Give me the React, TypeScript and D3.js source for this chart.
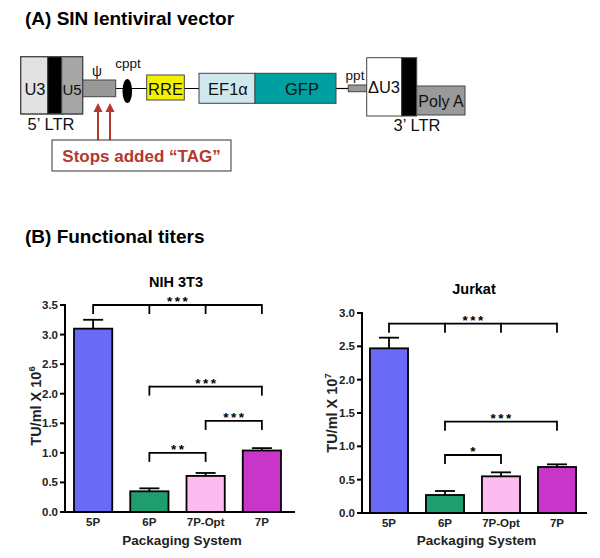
import * as d3 from "d3";
import { useEffect, useRef } from "react";

// ---- data ----
const categories = ["5P", "6P", "7P-Opt", "7P"];
const nihMeans = [3.1, 0.35, 0.61, 1.04];
const nihErrors = [0.15, 0.05, 0.05, 0.04];
const jurkatMeans = [2.47, 0.27, 0.55, 0.69];
const jurkatErrors = [0.16, 0.06, 0.06, 0.04];
const nihTicks = [0, 0.5, 1, 1.5, 2, 2.5, 3, 3.5];
const jurkatTicks = [0, 0.5, 1, 1.5, 2, 2.5, 3];

const nihBrackets = [
  { drops: ["5P", "6P", "7P-Opt", "7P"], level: 3.5, stars: "***" },
  { drops: ["6P", "7P"], level: 2.12, stars: "***" },
  { drops: ["7P-Opt", "7P"], level: 1.54, stars: "***" },
  { drops: ["6P", "7P-Opt"], level: 1.0, stars: "**" },
];
const jurkatBrackets = [
  { drops: ["5P", "6P", "7P-Opt", "7P"], level: 2.84, stars: "***" },
  { drops: ["6P", "7P"], level: 1.37, stars: "***" },
  { drops: ["6P", "7P-Opt"], level: 0.87, stars: "*" },
];

const barColors = ["#6a6af6", "#1f9d6e", "#fcbcef", "#c934c9"];

// schematic of the vector, in schematic units
const vectorParts = [
  { start: 20.7, end: 47.7, top: 56.7, bottom: 114, fill: "#e2e2e2" },
  { start: 47.7, end: 61.7, top: 56.7, bottom: 114, fill: "#000" },
  { start: 61.7, end: 82.7, top: 56.7, bottom: 114, fill: "#a6a6a6" },
  { start: 82.7, end: 115.7, top: 80, bottom: 96.7, fill: "#999" },
  { start: 146.7, end: 184.3, top: 75, bottom: 100, fill: "#f2f200" },
  { start: 199, end: 255, top: 73.3, bottom: 103.3, fill: "#cfe8ee" },
  { start: 255, end: 336, top: 73.3, bottom: 103.3, fill: "#00a0a0" },
  { start: 348.3, end: 366.7, top: 85, bottom: 91.7, fill: "#999" },
  { start: 366.7, end: 401.7, top: 57.7, bottom: 116, fill: "#fff" },
  { start: 401.7, end: 416.7, top: 57.7, bottom: 116, fill: "#000" },
  { start: 416.7, end: 465, top: 86, bottom: 115, fill: "#9a9a9a" },
];
const vectorLabels = [
  { text: "U3", x: 35, y: 95, size: 16.5 },
  { text: "U5", x: 72, y: 95, size: 15 },
  { text: "ψ", x: 97, y: 76, size: 14 },
  { text: "cppt", x: 128, y: 68, size: 13.5 },
  { text: "RRE", x: 165.5, y: 95, size: 16.5 },
  { text: "EF1α", x: 228, y: 95, size: 16.5 },
  { text: "GFP", x: 302, y: 95, size: 16.5 },
  { text: "ppt", x: 355, y: 80, size: 13.5 },
  { text: "ΔU3", x: 384, y: 93, size: 16.5 },
  { text: "Poly A", x: 441, y: 106.5, size: 16 },
  { text: "5’ LTR", x: 51, y: 130, size: 16.5 },
  { text: "3’ LTR", x: 417, y: 130.5, size: 16.5 },
];
const stopArrows = [98, 110];

const FONT = "Liberation Sans, Arial, Helvetica, sans-serif";

interface ChartCfg {
  title: string;
  exp: string;
  means: number[];
  errors: number[];
  ticks: number[];
  max: number;
  axisLeft: number;
  axisRight: number;
  yTop: number;
  yBottom: number;
  band: [number, number];
  titleX: number;
  titleY: number;
  labelX: number;
  labelY: number;
  brackets: { drops: string[]; level: number; stars: string }[];
}

const charts: ChartCfg[] = [
  {
    title: "NIH 3T3", exp: "6", means: nihMeans, errors: nihErrors, ticks: nihTicks, max: 3.5,
    axisLeft: 65, axisRight: 295, yTop: 305, yBottom: 512, band: [65, 290],
    titleX: 176, titleY: 287, labelX: 36, labelY: 406, brackets: nihBrackets,
  },
  {
    title: "Jurkat", exp: "7", means: jurkatMeans, errors: jurkatErrors, ticks: jurkatTicks, max: 3,
    axisLeft: 362, axisRight: 587, yTop: 313, yBottom: 513, band: [361, 585],
    titleX: 474, titleY: 294, labelX: 332, labelY: 413, brackets: jurkatBrackets,
  },
];

export default function App() {
  const ref = useRef<SVGSVGElement | null>(null);

  useEffect(() => {
    if (!ref.current) return;
    const svg = d3.select(ref.current);
    svg.selectAll("*").remove();
    svg.append("rect").attr("width", 600).attr("height", 558).attr("fill", "#fff");

    // Panel titles
    svg.append("text").attr("x", 25).attr("y", 25).attr("font-size", 19).attr("font-weight", "bold")
      .attr("font-family", FONT).text("(A) SIN lentiviral vector");
    svg.append("text").attr("x", 25).attr("y", 243).attr("font-size", 19).attr("font-weight", "bold")
      .attr("font-family", FONT).text("(B) Functional titers");

    // ---- vector schematic ----
    const sx = d3.scaleLinear().domain([0, 600]).range([0, 600]);
    const dg = svg.append("g");
    dg.append("line").attr("x1", sx(115.7)).attr("x2", sx(199)).attr("y1", 88.5).attr("y2", 88.5)
      .attr("stroke", "#000").attr("stroke-width", 1.2);
    dg.append("line").attr("x1", sx(336)).attr("x2", sx(348.3)).attr("y1", 88.5).attr("y2", 88.5)
      .attr("stroke", "#000").attr("stroke-width", 1.2);
    dg.selectAll("rect.part").data(vectorParts).join("rect")
      .attr("class", "part")
      .attr("x", d => sx(d.start)).attr("width", d => sx(d.end) - sx(d.start))
      .attr("y", d => d.top).attr("height", d => d.bottom - d.top)
      .attr("fill", d => d.fill).attr("stroke", "#444").attr("stroke-width", 1);
    // outline of the 5' LTR
    dg.append("rect").attr("x", sx(20.7)).attr("y", 56.7).attr("width", sx(82.7) - sx(20.7)).attr("height", 57.3)
      .attr("fill", "none").attr("stroke", "#444");
    dg.append("ellipse").attr("cx", sx(127.3)).attr("cy", 91).attr("rx", 4.8).attr("ry", 12).attr("fill", "#000");
    dg.selectAll("text.lab").data(vectorLabels).join("text")
      .attr("class", "lab")
      .attr("x", d => sx(d.x)).attr("y", d => d.y).attr("text-anchor", "middle")
      .attr("font-size", d => d.size).attr("font-family", FONT).attr("fill", "#111")
      .text(d => d.text);

    // stop-codon arrows and box
    const red = "#b5382d";
    stopArrows.forEach(x => {
      dg.append("line").attr("x1", sx(x)).attr("x2", sx(x)).attr("y1", 140).attr("y2", 110)
        .attr("stroke", red).attr("stroke-width", 2);
      dg.append("path").attr("d", `M${sx(x)},103 L${sx(x) - 4.5},112 L${sx(x) + 4.5},112 Z`).attr("fill", red);
    });
    dg.append("rect").attr("x", 52).attr("y", 140).attr("width", 179).attr("height", 31)
      .attr("fill", "#fff").attr("stroke", "#333").attr("stroke-width", 1);
    dg.append("text").attr("x", 141.5).attr("y", 162).attr("text-anchor", "middle")
      .attr("font-size", 17).attr("font-weight", "bold").attr("font-family", FONT).attr("fill", red)
      .text("Stops added “TAG”");

    // ---- bar charts ----
    charts.forEach(c => {
      const g = svg.append("g").attr("font-family", FONT);
      const x = d3.scaleBand<string>().domain(categories).range(c.band).paddingInner(0.32).paddingOuter(0.16);
      const y = d3.scaleLinear().domain([0, c.max]).range([c.yBottom, c.yTop]);
      const bw = x.bandwidth();

      g.append("text").attr("x", c.titleX).attr("y", c.titleY).attr("text-anchor", "middle")
        .attr("font-size", 14.5).attr("font-weight", "bold").text(c.title);

      // error bars (behind bars)
      categories.forEach((cat, i) => {
        const cx = x(cat)! + bw / 2;
        const top = y(c.means[i] + c.errors[i]);
        g.append("line").attr("x1", cx).attr("x2", cx).attr("y1", y(c.means[i])).attr("y2", top)
          .attr("stroke", "#000").attr("stroke-width", 1.8);
        g.append("line").attr("x1", cx - 10).attr("x2", cx + 10).attr("y1", top).attr("y2", top)
          .attr("stroke", "#000").attr("stroke-width", 1.8);
      });

      g.selectAll("rect.bar").data(categories).join("rect")
        .attr("class", "bar")
        .attr("x", d => x(d)!).attr("width", bw)
        .attr("y", (_, i) => y(c.means[i])).attr("height", (_, i) => y(0) - y(c.means[i]))
        .attr("fill", (_, i) => barColors[i]).attr("stroke", "#000").attr("stroke-width", 1.8);

      // axes
      g.append("line").attr("x1", c.axisLeft).attr("x2", c.axisLeft).attr("y1", y(c.max) - 1).attr("y2", y(0))
        .attr("stroke", "#000").attr("stroke-width", 2);
      g.append("line").attr("x1", c.axisLeft - 1).attr("x2", c.axisRight).attr("y1", y(0)).attr("y2", y(0))
        .attr("stroke", "#000").attr("stroke-width", 2);
      c.ticks.forEach(t => {
        g.append("line").attr("x1", c.axisLeft - 5).attr("x2", c.axisLeft).attr("y1", y(t)).attr("y2", y(t))
          .attr("stroke", "#000").attr("stroke-width", 2);
        g.append("text").attr("x", c.axisLeft - 7).attr("y", y(t) + 4).attr("text-anchor", "end")
          .attr("font-size", 11.5).attr("font-weight", "bold").attr("fill", "#222").text(d3.format(".1f")(t));
      });
      categories.forEach(cat => {
        g.append("text").attr("x", x(cat)! + bw / 2).attr("y", c.yBottom + 14).attr("text-anchor", "middle")
          .attr("font-size", 11.5).attr("font-weight", "bold").attr("fill", "#222").text(cat);
      });
      g.append("text").attr("x", (c.axisLeft + c.axisRight) / 2 + 2).attr("y", 545).attr("text-anchor", "middle")
        .attr("font-size", 13.5).attr("font-weight", "bold").attr("fill", "#222").text("Packaging System");

      const yl = g.append("text").attr("transform", `translate(${c.labelX + 5},${c.labelY}) rotate(-90)`)
        .attr("text-anchor", "middle").attr("font-size", 14.5).attr("font-weight", "bold").attr("fill", "#222");
      yl.append("tspan").text("TU/ml X 10");
      yl.append("tspan").attr("dy", -6).attr("font-size", 9.5).text(c.exp);

      // significance brackets
      c.brackets.forEach(b => {
        const by = y(b.level);
        const xs = b.drops.map(d => x(d)! + bw / 2);
        const x0 = xs[0], x1 = xs[xs.length - 1];
        g.append("line").attr("x1", x0).attr("x2", x1).attr("y1", by).attr("y2", by)
          .attr("stroke", "#000").attr("stroke-width", 1.8);
        xs.forEach(xx => {
          g.append("line").attr("x1", xx).attr("x2", xx).attr("y1", by - 0.9).attr("y2", by + 9)
            .attr("stroke", "#000").attr("stroke-width", 1.8);
        });
        g.append("text").attr("x", (x0 + x1) / 2 + 1.2).attr("y", by + 1).attr("text-anchor", "middle")
          .attr("font-size", 13.5).attr("font-weight", "bold").attr("letter-spacing", 2.5).text(b.stars);
      });
    });
  }, []);

  return (
    <svg
      ref={ref}
      width={600}
      height={558}
      style={{ position: "absolute", left: 0, top: 0 }}
    />
  );
}
